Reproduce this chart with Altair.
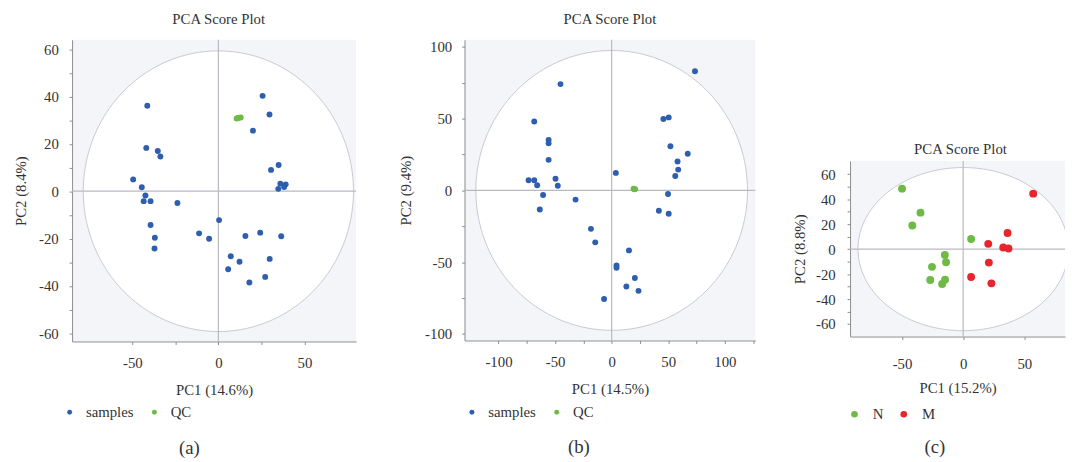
import altair as alt
import pandas as pd

FONT = "Liberation Serif"
TXT = "#333333"

# ---------------- Panel (a) ----------------
a_samples_x = [-41.3, -41.9, -35.2, -33.7, -49.5, -44.5, 25.7, 29.7, 20.1, 35.0, 30.6,
               36.0, 39.1, 38.2, 34.8, -42.4, -43.4, -39.4, -23.8, -39.4, -36.9, -37.1,
               0.4, -11.2, -5.4, 15.7, 24.3, 36.5, 7.2, 12.3, 5.7, 29.8, 27.2, 18.0]
a_samples_y = [36.1, 18.3, 17.0, 14.7, 5.0, 1.7, 40.3, 32.4, 25.6, 11.1, 9.0,
               3.2, 2.9, 1.8, 1.0, -1.8, -4.2, -4.2, -5.0, -14.3, -19.7, -24.2,
               -12.2, -17.8, -20.1, -18.9, -17.5, -19.0, -27.5, -29.8, -33.0, -28.6, -36.2, -38.6]
a_qc_x = [10.6, 11.2, 11.8, 12.4, 13.0]
a_qc_y = [30.7, 30.9, 31.0, 31.1, 31.2]
a_ellipse = (78.5, 59.3)

# ---------------- Panel (b) ----------------
b_samples_x = [-45.2, -68.4, -55.7, -55.7, -55.7, -73.4, -68.4, -65.8, -49.6, -47.6, 3.7,
               73.6, 45.7, 50.4, 51.9, 67.2, 58.2, 58.8, 56.2, -60.6, -31.9, -63.5,
               -18.3, -14.5, 15.3, 4.3, 4.3, 20.5, 13.0, 23.7, -6.7, 49.8, 41.7, 50.4]
b_samples_y = [74.1, 48.0, 35.1, 32.8, 21.3, 7.1, 7.1, 3.6, 8.1, 3.2, 12.2,
               83.1, 49.8, 50.9, 30.8, 25.5, 20.2, 14.5, 10.1, -3.2, -6.4, -13.3,
               -26.8, -36.2, -41.8, -52.3, -53.9, -61.0, -67.0, -70.0, -75.7, -2.5, -14.2, -16.3]
b_qc_x = [19.3, 20.0, 20.8]
b_qc_y = [1.2, 0.8, 0.9]
b_ellipse = (120.0, 97.5)

# ---------------- Panel (c) ----------------
c_n_x = [-50.0, -34.9, -41.6, 6.5, -15.0, -14.0, -25.5, -26.9, -14.8, -17.2]
c_n_y = [48.4, 29.2, 18.9, 8.1, -4.7, -10.5, -14.2, -24.7, -24.5, -27.9]
c_m_x = [57.3, 36.3, 20.5, 32.8, 37.1, 21.0, 6.5, 23.1]
c_m_y = [44.4, 12.9, 4.2, 1.3, 0.5, -10.8, -22.3, -27.4]
c_ellipse = (86.0, 65.3)

BLUE = "#2e5eae"
GREEN = "#6dbb45"
RED = "#e5262d"


def make_df(groups):
    rows = []
    for name, xs, ys in groups:
        for x, y in zip(xs, ys):
            rows.append({"x": x, "y": y, "group": name})
    return pd.DataFrame(rows)


def panel(df, order, colors, xdom, ydom, xticks, yticks, xstep, ystep, ell,
          xtitle, ytitle, caption, w, h, psize, lsize, leg_x, leg_y, cap_x, cap_y,
          title_dx, title_off, ylabpad, ytitlepad, xlabpad, xtitlepad, loff):
    xs = alt.Scale(domain=xdom, nice=False, zero=False)
    ys = alt.Scale(domain=ydom, nice=False, zero=False)
    xaxis = alt.Axis(values=xticks, title=xtitle, grid=False,
                     labelExpr=f"datum.value % {xstep} == 0 ? '' + datum.value : ''",
                     labelPadding=xlabpad, titlePadding=xtitlepad)
    yaxis = alt.Axis(values=yticks, title=ytitle, grid=False,
                     labelExpr=f"datum.value % {ystep} == 0 ? '' + datum.value : ''",
                     labelPadding=ylabpad, titlePadding=ytitlepad)
    ea, eb = ell

    fill = alt.Chart(alt.sequence(0, 181, 1, as_="deg")).transform_calculate(
        ex=f"{ea}*cos(datum.deg*PI/180)",
        ey=f"{eb}*sin(datum.deg*PI/180)",
        ey2=f"-{eb}*sin(datum.deg*PI/180)",
    ).mark_area(color="white", clip=True).encode(
        x=alt.X("ex:Q", scale=xs, axis=xaxis),
        y=alt.Y("ey:Q", scale=ys, axis=yaxis),
        y2="ey2:Q",
    )
    outline = alt.Chart(alt.sequence(0, 362, 2, as_="deg")).transform_calculate(
        ex=f"{ea}*cos(datum.deg*PI/180)",
        ey=f"{eb}*sin(datum.deg*PI/180)",
    ).mark_line(color="#c8c8d0", strokeWidth=1, clip=True).encode(
        x=alt.X("ex:Q", scale=xs, axis=xaxis),
        y=alt.Y("ey:Q", scale=ys, axis=yaxis),
        order="deg:Q",
    )
    zero = pd.DataFrame({"v": [0]})
    vrule = alt.Chart(zero).mark_rule(color="#b9b9c2", strokeWidth=1.2).encode(
        x=alt.X("v:Q", scale=xs, axis=xaxis))
    hrule = alt.Chart(zero).mark_rule(color="#b9b9c2", strokeWidth=1.2).encode(
        y=alt.Y("v:Q", scale=ys, axis=yaxis))
    pts = alt.Chart(df).mark_circle(size=psize, opacity=1).encode(
        x=alt.X("x:Q", scale=xs, axis=xaxis),
        y=alt.Y("y:Q", scale=ys, axis=yaxis),
        color=alt.Color("group:N", scale=alt.Scale(domain=order, range=colors),
                        sort=order,
                        legend=alt.Legend(orient="none", legendX=leg_x, legendY=leg_y,
                                          direction="horizontal", title=None,
                                          symbolSize=lsize, symbolType="circle",
                                          labelFont=FONT, labelFontSize=15,
                                          labelColor=TXT, labelOffset=loff,
                                          columnPadding=13, padding=0)),
    )
    cap = alt.Chart(pd.DataFrame({"t": [caption]})).mark_text(
        font=FONT, fontSize=19, color=TXT).encode(
        text="t:N", x=alt.value(cap_x), y=alt.value(cap_y))
    return alt.layer(fill, outline, vrule, hrule, pts, cap).properties(
        width=w, height=h,
        title=alt.TitleParams("PCA Score Plot", font=FONT, fontSize=15,
                              fontWeight="normal", color=TXT, anchor="middle",
                              dx=title_dx, offset=title_off),
        view=alt.ViewBackground(fill="#f4f5f9", strokeWidth=0),
    )


df_a = make_df([("samples", a_samples_x, a_samples_y), ("QC", a_qc_x, a_qc_y)])
df_b = make_df([("samples", b_samples_x, b_samples_y), ("QC", b_qc_x, b_qc_y)])
df_c = make_df([("N", c_n_x, c_n_y), ("M", c_m_x, c_m_y)])

pa = panel(df_a, ["samples", "QC"], [BLUE, GREEN], [-85, 80], [-63.5, 64],
           [-50, -25, 0, 25, 50], list(range(-60, 61, 10)), 50, 20, a_ellipse,
           "PC1 (14.6%)", "PC2 (8.4%)", "(a)", 288, 306, 36, 25,
           -10, 370, 119, 414, 4.7, 12, 11, 10, 11, 13, 9)
pb = panel(df_b, ["samples", "QC"], [BLUE, GREEN], [-130, 127], [-104.6, 105],
           list(range(-100, 126, 25)), list(range(-100, 101, 25)), 50, 50, b_ellipse,
           "PC1 (14.5%)", "PC2 (9.4%)", "(b)", 295, 305, 36, 25,
           0, 370, 116, 413, 0, 12, 10, 11, 11, 13, 9)
pc = panel(df_c, ["N", "M"], [GREEN, RED], [-92.5, 83.3], [-70, 70.5],
           [-50, 0, 50], list(range(-60, 61, 10)), 50, 20, c_ellipse,
           "PC1 (15.2%)", "PC2 (8.8%)", "(c)", 218, 178, 64, 45,
           -3, 249, 86, 290, 3, 4, 12, 8, 17, 10, 11)

spacer = alt.Chart(pd.DataFrame({"v": [0]})).mark_point(opacity=0).encode(
    x=alt.X("v:Q", axis=None), y=alt.Y("v:Q", axis=None)
).properties(width=1, height=103, view=alt.ViewBackground(strokeWidth=0))

right = alt.hconcat(
    pb, alt.vconcat(spacer, pc, spacing=0).resolve_scale(color="independent"),
    spacing=37,
).resolve_scale(color="independent")

chart = alt.hconcat(pa, right, spacing=42).resolve_scale(
    color="independent"
).properties(
    padding={"left": 6, "top": 1, "right": 0, "bottom": 0}
).configure_view(strokeWidth=0).configure_axis(
    labelFont=FONT, titleFont=FONT, labelFontSize=15, titleFontSize=15,
    titleFontWeight="normal", labelColor=TXT, titleColor=TXT,
    domainColor="#8c8c8c", tickColor="#8c8c8c", tickSize=3,
)

chart.save("out.html", embed_options={"renderer": "svg", "actions": False})
